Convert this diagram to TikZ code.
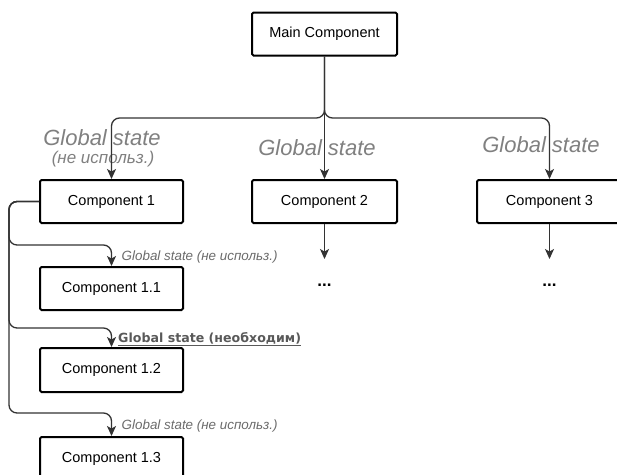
\documentclass[tikz,border=0pt]{standalone}
\usepackage{fontspec}
\setmainfont{Liberation Sans}
\newfontfamily\boldwide{DejaVu Sans}
\usetikzlibrary{arrows.meta}
\begin{document}
\begin{tikzpicture}[x=1pt,y=-1pt,
  box/.style={draw=black, line width=2pt, rounded corners=1.5pt, fill=white,
    minimum width=145pt, minimum height=43pt, inner sep=0pt,
    font=\fontsize{14.5}{17}\selectfont},
  conn/.style={draw=black!80, line width=1.3pt, rounded corners=8pt,
    -{Stealth[length=10pt,width=9pt,inset=2.5pt]}},
  biglbl/.style={text=black!50, font=\fontsize{22}{24}\selectfont\itshape, inner sep=0pt},
  midlbl/.style={text=black!50, font=\fontsize{17}{19}\selectfont\itshape, inner sep=0pt},
  smalllbl/.style={text=black!58, font=\fontsize{13.4}{15}\selectfont\itshape, inner sep=0pt, anchor=west},
  boldlbl/.style={text=black!65, font=\boldwide\fontsize{12.6}{15}\selectfont\bfseries, inner sep=0pt, anchor=west},
  dots/.style={font=\fontsize{17}{18}\selectfont\bfseries, inner sep=0pt}
]
\useasboundingbox (0,0) rectangle (617,474);
\begin{scope}
\clip (0,0) rectangle (617,474);
% labels under connectors
\node[biglbl] (lg1) at (102,138) {Global state};
\node[midlbl] (lg1b) at (103,159) {(не использ.)};
\node[biglbl] (lg2) at (317,148) {Global state};
\node[biglbl] (lg3) at (541,145) {Global state};

\node[box] (main) at (324.5,34) {Main Component};
\node[box, minimum width=143pt] (c1) at (111.5,201.5) {Component 1};
\node[box] (c2) at (324.5,201.5) {Component 2};
\node[box] (c3) at (549.5,201.5) {Component 3};
\node[box, minimum width=143pt] (c11) at (111.5,288.5) {Component 1.1};
\node[box, minimum width=143pt, minimum height=44pt] (c12) at (111.5,370) {Component 1.2};
\node[box, minimum width=143pt] (c13) at (111.5,458.5) {Component 1.3};

\coordinate (split) at (324.5,118);
\coordinate (trunk) at (9,201.5);
\coordinate (b11) at (9,245);
\coordinate (b12) at (9,328);
\coordinate (b13) at (9,413);
\coordinate (e2) at (324.5,259);
\coordinate (e3) at (549.5,259);

\draw[conn] (main.south) -- (split) -| (c1.north);
\draw[conn] (main.south) -- (split) -| (c3.north);
\draw[conn, rounded corners=0pt] (main.south) -- (c2.north);

\draw[conn] (c1.west) -- (trunk) -- (b11) -| (c11.north);
\draw[conn] (c1.west) -- (trunk) -- (b12) -| (c12.north);
\draw[conn] (c1.west) -- (trunk) -- (b13) -| (c13.north);

\draw[conn] (c2.south) -- (e2);
\draw[conn] (c3.south) -- (e3);

\node[dots] (d2) at (324.5,285) {...};
\node[dots] (d3) at (549.5,285) {...};

\node[smalllbl] (l11) at (121.5,257) {Global state (не использ.)};
\node[boldlbl] (l12) at (118,339) {\underline{Global state (необходим)}};
\node[smalllbl] (l13) at (121.5,426) {Global state (не использ.)};
\end{scope}
\end{tikzpicture}
\end{document}
